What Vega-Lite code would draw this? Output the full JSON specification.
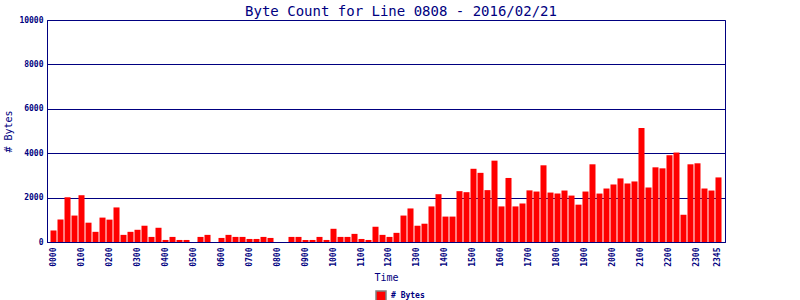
{
  "$schema": "https://vega.github.io/schema/vega-lite/v6.json",
  "autosize": {"type": "none"},
  "padding": {"left": 47, "top": 20, "right": 75, "bottom": 58},
  "width": 678,
  "height": 222,
  "background": "white",
  "view": {"stroke": "#000080", "strokeWidth": 1},
  "title": {"text": "Byte Count for Line 0808 - 2016/02/21", "font": "DejaVu Sans Mono", "fontSize": 14, "fontWeight": "normal", "color": "#000080", "dx": 15, "offset": -3},
  "data": {"values": [
    {"time": "0000", "bytes": 519}, {"time": "0015", "bytes": 1008}, {"time": "0030", "bytes": 2015}, {"time": "0045", "bytes": 1191},
    {"time": "0100", "bytes": 2107}, {"time": "0115", "bytes": 870}, {"time": "0130", "bytes": 458}, {"time": "0145", "bytes": 1099},
    {"time": "0200", "bytes": 1008}, {"time": "0215", "bytes": 1557}, {"time": "0230", "bytes": 321}, {"time": "0245", "bytes": 458},
    {"time": "0300", "bytes": 550}, {"time": "0315", "bytes": 733}, {"time": "0330", "bytes": 229}, {"time": "0345", "bytes": 641},
    {"time": "0400", "bytes": 92}, {"time": "0415", "bytes": 229}, {"time": "0430", "bytes": 92}, {"time": "0445", "bytes": 92},
    {"time": "0500", "bytes": 0}, {"time": "0515", "bytes": 229}, {"time": "0530", "bytes": 321}, {"time": "0545", "bytes": 0},
    {"time": "0600", "bytes": 183}, {"time": "0615", "bytes": 321}, {"time": "0630", "bytes": 229}, {"time": "0645", "bytes": 229},
    {"time": "0700", "bytes": 137}, {"time": "0715", "bytes": 137}, {"time": "0730", "bytes": 229}, {"time": "0745", "bytes": 183},
    {"time": "0800", "bytes": 0}, {"time": "0815", "bytes": 0}, {"time": "0830", "bytes": 229}, {"time": "0845", "bytes": 229},
    {"time": "0900", "bytes": 92}, {"time": "0915", "bytes": 92}, {"time": "0930", "bytes": 229}, {"time": "0945", "bytes": 92},
    {"time": "1000", "bytes": 595}, {"time": "1015", "bytes": 229}, {"time": "1030", "bytes": 229}, {"time": "1045", "bytes": 366},
    {"time": "1100", "bytes": 137}, {"time": "1115", "bytes": 92}, {"time": "1130", "bytes": 687}, {"time": "1145", "bytes": 321},
    {"time": "1200", "bytes": 229}, {"time": "1215", "bytes": 412}, {"time": "1230", "bytes": 1191}, {"time": "1245", "bytes": 1511},
    {"time": "1300", "bytes": 733}, {"time": "1315", "bytes": 824}, {"time": "1330", "bytes": 1603}, {"time": "1345", "bytes": 2153},
    {"time": "1400", "bytes": 1145}, {"time": "1415", "bytes": 1145}, {"time": "1430", "bytes": 2290}, {"time": "1445", "bytes": 2244},
    {"time": "1500", "bytes": 3298}, {"time": "1515", "bytes": 3115}, {"time": "1530", "bytes": 2336}, {"time": "1545", "bytes": 3664},
    {"time": "1600", "bytes": 1603}, {"time": "1615", "bytes": 2885}, {"time": "1630", "bytes": 1603}, {"time": "1645", "bytes": 1735},
    {"time": "1700", "bytes": 2325}, {"time": "1715", "bytes": 2273}, {"time": "1730", "bytes": 3455}, {"time": "1745", "bytes": 2227},
    {"time": "1800", "bytes": 2182}, {"time": "1815", "bytes": 2318}, {"time": "1830", "bytes": 2091}, {"time": "1845", "bytes": 1682},
    {"time": "1900", "bytes": 2273}, {"time": "1915", "bytes": 3500}, {"time": "1930", "bytes": 2182}, {"time": "1945", "bytes": 2409},
    {"time": "2000", "bytes": 2591}, {"time": "2015", "bytes": 2864}, {"time": "2030", "bytes": 2636}, {"time": "2045", "bytes": 2727},
    {"time": "2100", "bytes": 5136}, {"time": "2115", "bytes": 2455}, {"time": "2130", "bytes": 3364}, {"time": "2145", "bytes": 3318},
    {"time": "2200", "bytes": 3909}, {"time": "2215", "bytes": 4030}, {"time": "2230", "bytes": 1227}, {"time": "2245", "bytes": 3500},
    {"time": "2300", "bytes": 3545}, {"time": "2315", "bytes": 2409}, {"time": "2330", "bytes": 2318}, {"time": "2345", "bytes": 2909}
  ]},
  "mark": {"type": "bar", "color": "#FF0000"},
  "encoding": {
    "x": {
      "field": "time", "type": "ordinal", "sort": null,
      "scale": {"paddingInner": 0.14, "paddingOuter": 0.5},
      "axis": {
        "title": "Time", "titleFont": "DejaVu Sans Mono", "titleFontSize": 10, "titleFontWeight": "normal", "titleColor": "#000080", "titlePadding": 6,
        "values": ["0000","0100","0200","0300","0400","0500","0600","0700","0800","0900","1000","1100","1200","1300","1400","1500","1600","1700","1800","1900","2000","2100","2200","2300","2345"],
        "labelAngle": 270, "labelFont": "DejaVu Sans Mono", "labelFontSize": 8, "labelFontWeight": "bold", "labelColor": "#000080", "labelPadding": 5,
        "ticks": false, "domainColor": "#000080", "grid": false, "labelOverlap": false
      }
    },
    "y": {
      "field": "bytes", "type": "quantitative",
      "scale": {"domain": [0, 10000], "nice": false},
      "axis": {
        "title": "# Bytes", "titleFont": "DejaVu Sans Mono", "titleFontSize": 10, "titleFontWeight": "normal", "titleColor": "#000080", "titlePadding": 5,
        "values": [0, 2000, 4000, 6000, 8000, 10000], "format": "d",
        "labelFont": "DejaVu Sans Mono", "labelFontSize": 8, "labelFontWeight": "bold", "labelColor": "#000080", "labelPadding": 4,
        "ticks": false, "domainColor": "#000080",
        "grid": true, "gridColor": "#000080", "gridOpacity": 1, "gridWidth": 1
      }
    },
    "fill": {
      "datum": "# Bytes", "type": "nominal",
      "scale": {"range": ["#FF0000"]},
      "legend": {
        "title": null, "orient": "none", "legendX": 328, "legendY": 270,
        "symbolType": "square", "symbolSize": 100, "symbolStrokeColor": "#808080", "symbolStrokeWidth": 1.5,
        "labelFont": "DejaVu Sans Mono", "labelFontSize": 8, "labelFontWeight": "bold", "labelColor": "#000080", "labelOffset": 4
      }
    }
  }
}
